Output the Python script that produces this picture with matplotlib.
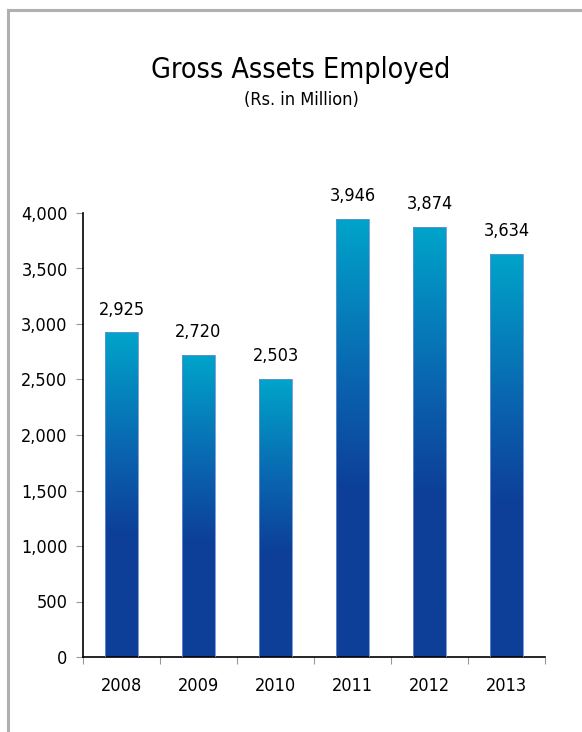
import numpy as np
import matplotlib
matplotlib.use("Agg")
import matplotlib.pyplot as plt
from matplotlib.colors import LinearSegmentedColormap
from matplotlib.lines import Line2D

years = ["2008", "2009", "2010", "2011", "2012", "2013"]
values = [2925, 2720, 2503, 3946, 3874, 3634]
yticks = [0, 500, 1000, 1500, 2000, 2500, 3000, 3500, 4000]

plt.rcParams['font.family'] = ['DejaVu Sans']
plt.rcParams['font.stretch'] = 'condensed'

fig = plt.figure(figsize=(5.82, 7.32), dpi=100)
W, H = 582, 732

# grey frame on top and left
fig.add_artist(Line2D([8 / W, 1], [1 - 10 / H, 1 - 10 / H], color="#b0b0b0", lw=2.2))
fig.add_artist(Line2D([8 / W, 8 / W], [0, 1 - 10 / H], color="#b0b0b0", lw=2.2))

fig.text(301 / W, 1 - 78 / H, "Gross Assets Employed", ha="center", va="baseline", fontsize=20.5)
fig.text(301 / W, 1 - 100 / H, "(Rs. in Million)", ha="center", va="center", fontsize=13)

ax = fig.add_axes([83 / W, 1 - 657 / H, (545 - 83) / W, (657 - 213) / H])

cmap = LinearSegmentedColormap.from_list(
    "bars", [(0.0, "#0d3f98"), (0.38, "#0d3f98"), (0.62, "#0a62ae"), (1.0, "#00a4ca")])
grad = np.linspace(0, 1, 256).reshape(-1, 1)

x = np.arange(len(years))
bars = ax.bar(x, values, width=0.42, color="none", edgecolor="#6a90d0", linewidth=0.6, zorder=3)
for b in bars:
    x0, w, h = b.get_x(), b.get_width(), b.get_height()
    im = ax.imshow(grad, cmap=cmap, aspect="auto", origin="lower",
                   extent=[x0, x0 + w, 0, h], zorder=2)
    im.set_clip_path(b)

# value labels, baseline ~18 px above bar top
for xi, v in zip(x, values):
    ax.text(xi, v + 160, f"{v:,}", ha="center", va="baseline", fontsize=13)

ax.set_xlim(-0.5, len(years) - 0.5)
ax.set_ylim(0, 4000)
ax.set_yticks(yticks)
ax.set_yticklabels([f"{t:,}" for t in yticks], fontsize=13)
ax.set_xticks(np.arange(-0.5, len(years), 1.0))
ax.set_xticklabels([])
ax.set_xticks(x, minor=True)
ax.set_xticklabels(years, minor=True, fontsize=13)
ax.tick_params(axis="x", which="minor", length=0, pad=14.5)
ax.tick_params(axis="x", which="major", length=5, color="#999999", direction="out")
ax.tick_params(axis="y", length=5, color="#999999", pad=6)

for s in ["top", "right"]:
    ax.spines[s].set_visible(False)
ax.spines["left"].set_color("black")
ax.spines["bottom"].set_color("black")
ax.spines["left"].set_linewidth(1.2)
ax.spines["bottom"].set_linewidth(1.2)

fig.savefig("out.png", dpi=100)
